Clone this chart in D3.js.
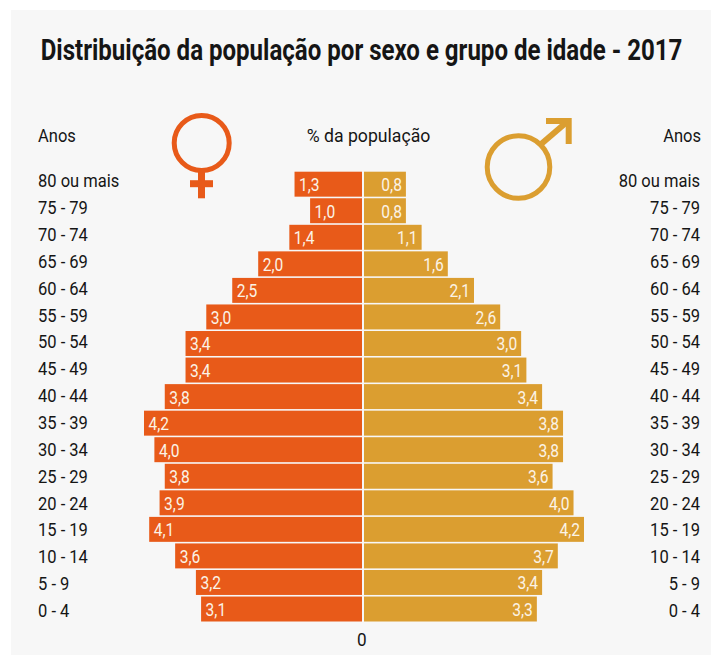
<!DOCTYPE html>
<html><head><meta charset="utf-8">
<style>html,body{margin:0;padding:0;background:#fff}svg{display:block}</style>
<script src="https://cdn.jsdelivr.net/npm/d3@7"></script></head>
<body><svg id="c" width="711" height="655"></svg>
<script>
const ageGroups=["80 ou mais","75 - 79","70 - 74","65 - 69","60 - 64","55 - 59","50 - 54","45 - 49","40 - 44","35 - 39","30 - 34","25 - 29","20 - 24","15 - 19","10 - 14","5 - 9","0 - 4"];
const female=[1.3,1.0,1.4,2.0,2.5,3.0,3.4,3.4,3.8,4.2,4.0,3.8,3.9,4.1,3.6,3.2,3.1];
const male=[0.8,0.8,1.1,1.6,2.1,2.6,3.0,3.1,3.4,3.8,3.8,3.6,4.0,4.2,3.7,3.4,3.3];
const title="Distribuição da população por sexo e grupo de idade - 2017";
const orange="#E85A19",gold="#DB9E30",ink="#151515",labelFill="#fbf3e6";
const font="Roboto,sans-serif";
const fmt=v=>v.toFixed(1).replace(".",",");
const svg=d3.select("#c");
svg.append("rect").attr("x",11).attr("y",10).attr("width",700).attr("height",645).attr("fill","#f7f7f7");
const y=d3.scaleBand().domain(ageGroups).range([171.7,621.5]).paddingInner(0.06).paddingOuter(0);
const yAge=d3.scalePoint().domain(ageGroups).range([187.3,617]);
const xL=d3.scaleLinear().domain([0,4.2]).range([362,144]);
const xR=d3.scaleLinear().domain([0,4.2]).range([364,584]);
const t=(x,yy,s,size,sx,anchor,fill,weight)=>svg.append("text")
  .attr("transform",`translate(${x},${yy}) scale(${sx},1)`)
  .attr("font-family",font).attr("font-size",size).attr("text-anchor",anchor||"start")
  .attr("fill",fill||ink).attr("font-weight",weight||400).text(s);
t(361.5,59.5,title,29,0.83,"middle",ink,700);
t(38,141.7,"Anos",19,0.87);t(701,141.7,"Anos",19,0.87,"end");
t(368.5,141.7,"% da população",19,0.93,"middle");
t(361.7,646,"0",19,0.9,"middle");
svg.selectAll(".fb").data(ageGroups).join("rect").attr("fill",orange).attr("y",d=>y(d)).attr("height",y.bandwidth()).attr("x",(d,i)=>xL(female[i])).attr("width",(d,i)=>xL(0)-xL(female[i]));
svg.selectAll(".mb").data(ageGroups).join("rect").attr("fill",gold).attr("y",d=>y(d)).attr("height",y.bandwidth()).attr("x",xR(0)).attr("width",(d,i)=>xR(male[i])-xR(0));
ageGroups.forEach((d,i)=>{const b=y(d)+y.bandwidth()/2+7;
 t(38,yAge(d),d,19,0.87);t(700,yAge(d),d,19,0.87,"end");
 t(xL(female[i])+4.5,b,fmt(female[i]),19,0.82,"start",labelFill);
 t(xR(male[i])-4,b,fmt(male[i]),19,0.82,"end",labelFill);});
const f=svg.append("g").attr("stroke",orange).attr("fill","none");
f.append("circle").attr("cx",201.7).attr("cy",143).attr("r",27.5).attr("stroke-width",5);
f.append("path").attr("d","M201.5 170V198.3").attr("stroke-width",7);
f.append("path").attr("d","M190 183.7H213").attr("stroke-width",7);
const m=svg.append("g").attr("stroke",gold).attr("fill","none");
m.append("circle").attr("cx",518.5).attr("cy",167).attr("r",31.3).attr("stroke-width",5);
m.append("path").attr("d","M540 145L568 121").attr("stroke-width",6);
m.append("path").attr("d","M546 121H568.7V144").attr("stroke-width",6);
</script></body></html>
